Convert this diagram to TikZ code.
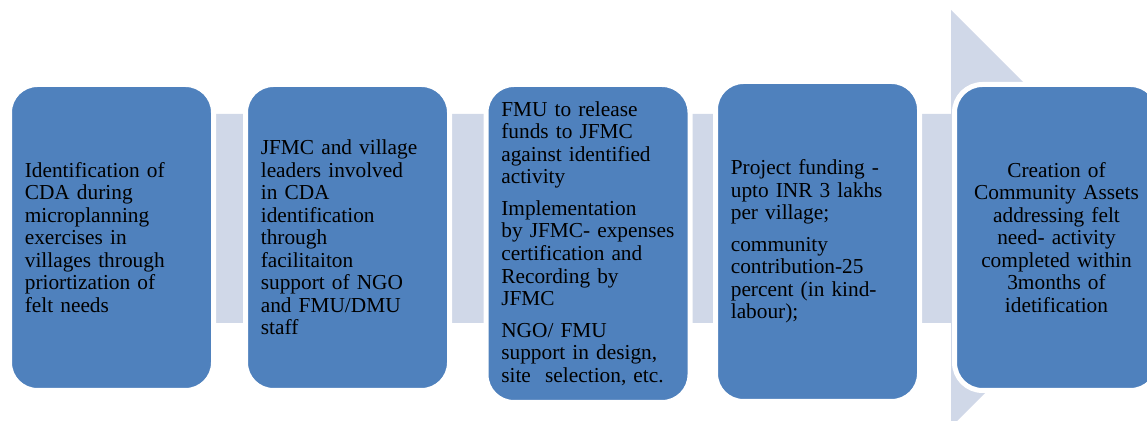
\documentclass[tikz,border=0pt]{standalone}
\usepackage{fontspec}
\setmainfont{Liberation Serif}
\definecolor{stageblue}{HTML}{4F81BD}
\definecolor{bandgrey}{HTML}{D0D8E8}

\begin{document}
\begin{tikzpicture}[x=0.75pt,y=0.75pt,
    stage/.style={draw=white, line width=3.75pt, fill=stageblue,
      rounded corners=21pt, minimum width=153pt, inner xsep=11.5pt,
      text width=130pt, align=left,
      font=\fontsize{16}{16.9}\selectfont}]
      \useasboundingbox (0,0) rectangle (1147,421);

      \fill[bandgrey] (30,307) -- (951,307) -- (951,411) -- (1159.5,202.5)
        -- (951,-6) -- (951,98) -- (30,98) -- cycle;

      \node[stage, minimum height=229.5pt] (a) at (111.5,183.5)
        {Identification of\\CDA during\\microplanning\\exercises in\\villages through\\priortization of\\felt needs};

      \node[stage, minimum height=229.5pt] (b) at (347.5,183.5)
        {JFMC and village\\leaders involved\\in CDA\\identification\\through\\facilitaiton\\support of NGO\\and FMU/DMU\\staff};

      \node[stage, minimum height=238.5pt] (c) at (588,177.5)
        {FMU to release\\funds to JFMC\\against identified\\activity\\[6.75pt]Implementation\\by JFMC- expenses\\certification and\\Recording by\\JFMC\\[6.75pt]NGO/ FMU\\support in design,\\site~ selection, etc.};

      \node[stage, minimum height=240pt] (d) at (817.5,179.5)
        {Project funding -\\upto INR 3 lakhs\\per village;\\[6.75pt]community\\contribution-25\\percent (in kind-\\labour);};

      \node[stage, minimum height=229.5pt, align=center] (e) at (1056.5,183.5)
        {Creation of\\Community Assets\\addressing felt\\need- activity\\completed within\\3months of\\idetification};

    \end{tikzpicture}
\end{document}
